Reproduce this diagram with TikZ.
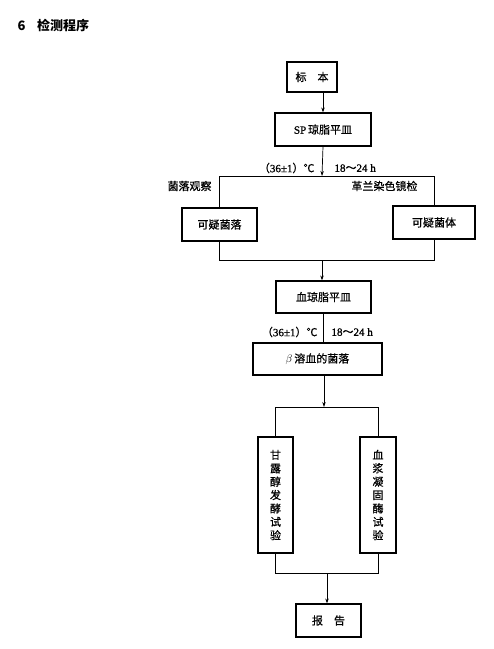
\documentclass[tikz,border=0pt]{standalone}
\usepackage{fontspec}
\setmainfont[RawFeature={embolden=1}]{Liberation Serif}
\newfontfamily\cjk[RawFeature={embolden=0.7}]{Noto Sans CJK SC}
\newfontfamily\cjktitel{Noto Sans CJK SC}
\usetikzlibrary{arrows.meta}

\begin{document}
\begin{tikzpicture}[
    x=1pt, y=-1pt,
    font=\fontsize{11}{13.4}\selectfont,
    >={Stealth[length=5pt,width=3.4pt]},
    kasten/.style={draw, line width=1.1pt, inner sep=0pt, align=center, font=\cjk\fontsize{11}{13.4}\selectfont},
    linie/.style={line width=0.7pt}
]

% --- RAHMEN ---
\useasboundingbox (0,0) rectangle (494,649);

% --- TITEL ---
\node[anchor=west, font=\cjktitel\bfseries\fontsize{13}{15}\selectfont] (titel) at (14,25) {6\hspace{0.9em}检测程序};

% --- KAESTEN ---
\node[kasten, minimum width=50, minimum height=30] (probe) at (312,77) {标\hspace{1em}本};
\node[kasten, minimum width=96, minimum height=33] (sp) at (323,129.5) {{\rmfamily SP}\,琼脂平皿};
\node[kasten, minimum width=75, minimum height=33] (kolonie) at (219.5,224.5) {可疑菌落};
\node[kasten, minimum width=82, minimum height=33] (zelle) at (434,222.5) {可疑菌体};
\node[kasten, minimum width=95, minimum height=32] (blut) at (323.5,297) {血琼脂平皿};
\node[kasten, minimum width=129, minimum height=32] (beta) at (317.5,359) {$\beta$\,溶血的菌落};
\node[kasten, minimum width=35, minimum height=116] (mannit) at (275.5,495) {甘\\露\\醇\\发\\酵\\试\\验};
\node[kasten, minimum width=36, minimum height=116] (koag) at (378,495) {血\\浆\\凝\\固\\酶\\试\\验};
\node[kasten, minimum width=65, minimum height=33] (bericht) at (328.5,620.5) {报\hspace{1em}告};

% --- HILFSPUNKTE ---
\coordinate (v1) at (322,176);
\coordinate (m1) at (322,260);
\coordinate (v2) at (324,407);
\coordinate (m2) at (327,573);

% --- BEDINGUNGEN ---
\node[anchor=east] (temp1) at (318,168) {{\cjk （}36±1{\cjk ）℃}};
\node[anchor=west] (zeit1) at (331,168) {18{\cjk ～}24 h};
\node[anchor=east] (temp2) at (321,332) {{\cjk （}36±1{\cjk ）℃}};
\node[anchor=west] (zeit2) at (328,332) {18{\cjk ～}24 h};
\node[anchor=west, font=\cjk\fontsize{11}{13.4}\selectfont] (beob) at (164,186) {菌落观察};
\node[anchor=east, font=\cjk\fontsize{11}{13.4}\selectfont] (gram) at (421,186) {革兰染色镜检};

% --- VERBINDUNGEN ---
\draw[linie, ->] (probe.south -| sp.north) -- (sp.north);
\draw[linie, ->] (sp.south) -- (v1);
\draw[linie] (kolonie.north) -- (kolonie.north |- v1) -- (zelle.north |- v1) -- (zelle.north);
\draw[linie] (kolonie.south) -- (kolonie.south |- m1) -- (zelle.south |- m1) -- (zelle.south);
\draw[linie, ->] (m1) -- (m1 |- blut.north);
\draw[linie] (blut.south) -- (blut.south |- beta.north);
\draw[linie, ->] (beta.south -| v2) -- (v2);
\draw[linie] (mannit.north) -- (mannit.north |- v2) -- (koag.north |- v2) -- (koag.north);
\draw[linie] (mannit.south) -- (mannit.south |- m2) -- (koag.south |- m2) -- (koag.south);
\draw[linie, ->] (m2) -- (m2 |- bericht.north);

\end{tikzpicture}
\end{document}
